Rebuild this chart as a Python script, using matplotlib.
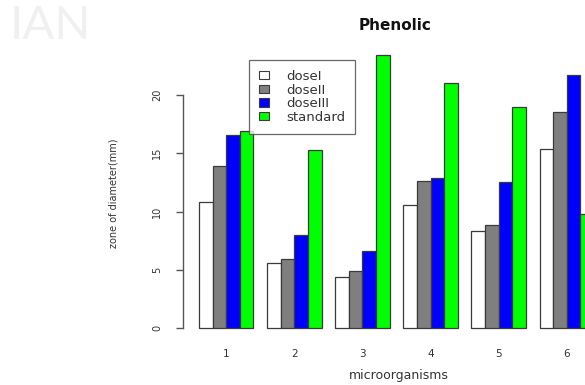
"""
Phenolic — zone of inhibition by dose, bar chart
"""
import matplotlib
matplotlib.use("Agg")
import matplotlib.pyplot as plt
from matplotlib.patches import Patch

# data
organisms = ["1", "2", "3", "4", "5", "6"]
series_names = ["doseI", "doseII", "doseIII", "standard"]
dose_1 = [10.8, 5.6, 4.4, 10.6, 8.3, 15.4]
dose_2 = [13.9, 5.9, 4.9, 12.6, 8.8, 18.5]
dose_3 = [16.6, 8.0, 6.6, 12.9, 12.5, 21.7]
standard = [16.9, 15.3, 23.4, 21.0, 19.0, 9.8]
y_ticks = [0, 5, 10, 15, 20]

colours = ["white", "#7f7f7f", "#0000ff", "#00ff00"]
edge = "#3a3a3a"

W, H = 585, 385
fig = plt.figure(figsize=(W / 100, H / 100), dpi=100)

# plot region (pixels): left axis at x=183, zero line at y=328
px_unit_x = 13.62
px_unit_y = 11.65
left_px, bottom_px, top_px = 183, 328, 40
ax = fig.add_axes([left_px / W, (H - bottom_px) / H,
                   (W - left_px) / W, (bottom_px - top_px) / H])
ax.set_xlim(1 - (199 - left_px) / px_unit_x, 1 + (W - 199) / px_unit_x)
ax.set_ylim(0, (bottom_px - top_px) / px_unit_y)

series = [dose_1, dose_2, dose_3, standard]
n = len(series)
for j, vals in enumerate(series):
    xs = [1 + g * (n + 1) + j for g in range(len(organisms))]
    ax.bar(xs, vals, width=1, align="edge", color=colours[j],
           edgecolor=edge, linewidth=0.9, clip_on=False)

for s in ["top", "right", "bottom"]:
    ax.spines[s].set_visible(False)
ax.spines["left"].set_bounds(0, 20)
ax.spines["left"].set_color("#555555")
ax.spines["left"].set_linewidth(1.0)
ax.set_yticks(y_ticks)
ax.set_yticklabels([str(t) for t in y_ticks], rotation=90, va="center",
                   fontsize=7, color="#333333")
ax.tick_params(axis="y", length=5, width=1.0, color="#555555", pad=10)

centres = [1 + g * (n + 1) + n / 2 for g in range(len(organisms))]
ax.set_xticks(centres)
ax.set_xticklabels(organisms, fontsize=7.5, color="#333333")
ax.tick_params(axis="x", length=0, pad=15)

ax.set_ylabel("zone of diameter(mm)", fontsize=7, color="#333333")
ax.yaxis.set_label_coords(118 / W, 1 - 193 / H, transform=fig.transFigure)
fig.text(399 / W, 1 - 376 / H, "microorganisms", ha="center", va="center",
         fontsize=9, color="#333333")

fig.text(395 / W, 1 - 26 / H, "Phenolic", ha="center", va="center",
         fontsize=11, fontweight="bold", color="#111111")

# faint watermark
fig.text(10 / W, 1 - 26 / H, "IAN", ha="left", va="center", fontsize=34,
         family="Lato", color="#f0f0f0")

handles = [Patch(facecolor=c, edgecolor=edge, linewidth=0.8) for c in colours]
leg = fig.legend(handles, series_names, loc="upper left",
                 bbox_to_anchor=(249 / W, 1 - 60 / H),
                 fontsize=9.5, frameon=True, fancybox=False,
                 edgecolor="#444444", handlelength=0.75, handleheight=0.6,
                 labelspacing=0.05, handletextpad=1.3, borderpad=0.75,
                 borderaxespad=0)
leg.get_frame().set_linewidth(0.9)
for t in leg.get_texts():
    t.set_color("#333333")

fig.savefig("out.png", dpi=100)
